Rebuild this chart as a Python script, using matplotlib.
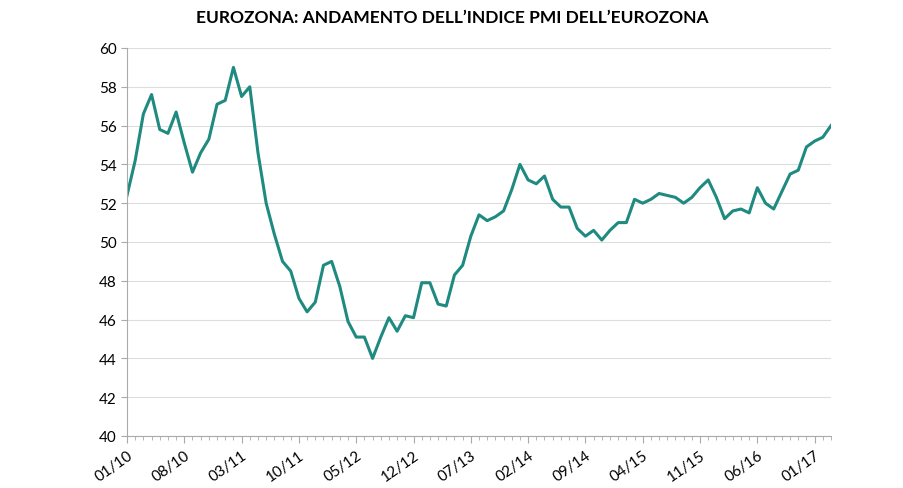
import matplotlib
matplotlib.use("Agg")
import matplotlib.pyplot as plt

pmi = [
    52.4, 54.2, 56.6, 57.6, 55.8, 55.6, 56.7, 55.1, 53.6, 54.6, 55.3, 57.1,
    57.3, 59.0, 57.5, 58.0, 54.6, 52.0, 50.4, 49.0, 48.5, 47.1, 46.4, 46.9,
    48.8, 49.0, 47.7, 45.9, 45.1, 45.1, 44.0, 45.1, 46.1, 45.4, 46.2, 46.1,
    47.9, 47.9, 46.8, 46.7, 48.3, 48.8, 50.3, 51.4, 51.1, 51.3, 51.6, 52.7,
    54.0, 53.2, 53.0, 53.4, 52.2, 51.8, 51.8, 50.7, 50.3, 50.6, 50.1, 50.6,
    51.0, 51.0, 52.2, 52.0, 52.2, 52.5, 52.4, 52.3, 52.0, 52.3, 52.8, 53.2,
    52.3, 51.2, 51.6, 51.7, 51.5, 52.8, 52.0, 51.7, 52.6, 53.5, 53.7, 54.9,
    55.2, 55.4, 56.0,
]
tick_labels = ["01/10", "08/10", "03/11", "10/11", "05/12", "12/12", "07/13",
               "02/14", "09/14", "04/15", "11/15", "06/16", "01/17"]

plt.rcParams["font.family"] = "Lato"
fig = plt.figure(figsize=(9.04, 4.89), dpi=100)
ax = fig.add_axes([127/904, 1-437/489, (831-127)/904, (437-49)/489])

ax.plot(range(len(pmi)), pmi, color="#1f8a80", linewidth=2.2)
ax.set_xlim(0, len(pmi) - 1)
ax.set_ylim(40, 60)
ax.set_yticks(range(40, 61, 2))
ax.set_xticks(range(0, len(pmi), 7))
ax.set_xticklabels(tick_labels, rotation=35, ha="right", rotation_mode="anchor")
ax.set_xticks(range(len(pmi)), minor=True)
ax.tick_params(axis="x", which="minor", length=3, color="#aaaaaa")
ax.tick_params(axis="x", which="major", length=5, color="#aaaaaa", labelsize=11)
ax.tick_params(axis="y", length=4, color="#aaaaaa", labelsize=11)
ax.grid(axis="y", color="#dddddd", linewidth=0.8)
ax.set_axisbelow(True)
for s in ["top", "right"]:
    ax.spines[s].set_visible(False)
for s in ["left", "bottom"]:
    ax.spines[s].set_color("#aaaaaa")

fig.text(0.5, 1-18/489, "EUROZONA: ANDAMENTO DELL’INDICE PMI DELL’EUROZONA",
         ha="center", va="center", fontsize=12.5, fontweight="bold")

fig.savefig("out.png", dpi=100)
